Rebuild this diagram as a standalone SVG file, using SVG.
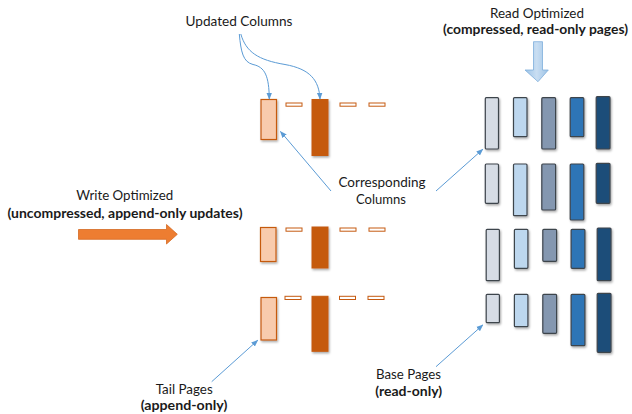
<svg xmlns="http://www.w3.org/2000/svg" width="632" height="414" viewBox="0 0 632 414">
<style>
text{font-family:Lato,"Liberation Sans",Arial,sans-serif;font-size:13.5px;fill:#1a1a1a;text-anchor:middle}
.b{font-weight:bold}
.tl{fill:#F8CBAD;stroke:#C55A11;stroke-width:1.2;filter:url(#sh)}
.td{fill:#C55A11;stroke:#C55A11;stroke-width:1;filter:url(#sh)}
.ds{fill:#fff;stroke:#C55A11;stroke-width:1}
.bp{stroke:#3E444C;stroke-width:1.2;filter:url(#sh)}
.c1{fill:#D6DCE5}.c2{fill:#BDD7EE}.c3{fill:#8497B0}.c4{fill:#2E75B6}.c5{fill:#1F4E79}
.ln{fill:none;stroke:#5B9BD5;stroke-width:1;marker-end:url(#ah)}
</style>
<defs>
<filter id="sh" x="-50%" y="-20%" width="200%" height="140%">
<feDropShadow dx="1" dy="1.5" stdDeviation="0.9" flood-color="#000" flood-opacity="0.35"/>
</filter>
<marker id="ah" viewBox="0 0 10 10" refX="9" refY="5" markerWidth="7" markerHeight="7" orient="auto" markerUnits="userSpaceOnUse">
<path d="M0,1 L10,5 L0,9 Z" fill="#5B9BD5"/>
</marker>
<linearGradient id="rg" x1="0" y1="0" x2="1" y2="0">
<stop offset="0" stop-color="#9DC3E6"/>
<stop offset="0.5" stop-color="#C9DEF2"/>
<stop offset="1" stop-color="#9DC3E6"/>
</linearGradient>
</defs>

<g id="labels">
<text x="239" y="26" textLength="107" lengthAdjust="spacingAndGlyphs">Updated Columns</text>
<text x="537" y="18" textLength="94" lengthAdjust="spacingAndGlyphs">Read Optimized</text>
<text class="b" x="535.5" y="34.3" textLength="185" lengthAdjust="spacingAndGlyphs">(compressed, read-only pages)</text>
<text x="124.7" y="200" textLength="97" lengthAdjust="spacingAndGlyphs">Write Optimized</text>
<text class="b" x="125" y="217.5" textLength="235" lengthAdjust="spacingAndGlyphs">(uncompressed, append-only updates)</text>
<text x="382" y="186.5" textLength="87" lengthAdjust="spacingAndGlyphs">Corresponding</text>
<text x="381" y="204" textLength="50" lengthAdjust="spacingAndGlyphs">Columns</text>
<text x="184.2" y="394" textLength="57" lengthAdjust="spacingAndGlyphs">Tail Pages</text>
<text class="b" x="184" y="409.5" textLength="86.6" lengthAdjust="spacingAndGlyphs">(append-only)</text>
<text x="408.5" y="379" textLength="65" lengthAdjust="spacingAndGlyphs">Base Pages</text>
<text class="b" x="408.7" y="395.7" textLength="67" lengthAdjust="spacingAndGlyphs">(read-only)</text>
</g>

<g id="write-arrow">
<path d="M78.5,229.5 H166.5 V224.5 L177.3,234.3 L166.5,244 V239.3 H78.5 Z" fill="#ED7D31" stroke="#D46A22" stroke-width="0.8"/>
</g>
<g id="read-arrow">
<path d="M533.5,41.7 H542.5 V70 H548.3 L538,81.7 L525,70 H533.5 Z" fill="url(#rg)" stroke="#7FAEDC" stroke-width="0.8"/>
</g>

<g id="tail-pages">
<g id="tail-row1">
<rect class="tl" x="261" y="99.5" width="15.5" height="40"/>
<rect class="ds" x="286" y="103" width="16" height="3.2"/>
<rect class="td" x="312" y="99.5" width="16" height="56"/>
<rect class="ds" x="340" y="103" width="16" height="3.2"/>
<rect class="ds" x="369" y="103" width="16" height="3.2"/>
</g>
<g id="tail-row2">
<rect class="tl" x="260.5" y="227.5" width="15.5" height="34"/>
<rect class="ds" x="286" y="228" width="16" height="3.2"/>
<rect class="td" x="312" y="227" width="16" height="41"/>
<rect class="ds" x="340" y="228" width="16" height="3.2"/>
<rect class="ds" x="369" y="228" width="16" height="3.2"/>
</g>
<g id="tail-row3">
<rect class="tl" x="261" y="297.5" width="15.5" height="42.5"/>
<rect class="ds" x="285" y="296.3" width="16" height="3.2"/>
<rect class="td" x="312" y="296.3" width="16" height="55"/>
<rect class="ds" x="339.5" y="296.3" width="16" height="3.2"/>
<rect class="ds" x="368" y="296.3" width="16" height="3.2"/>
</g>
</g>

<g id="base-pages">
<g id="base-row1">
<rect class="bp c1" x="485.3" y="97.7" width="13.2" height="51.3" rx="1"/>
<rect class="bp c2" x="513.5" y="97.7" width="13.5" height="39" rx="1"/>
<rect class="bp c3" x="541.8" y="97.7" width="13.8" height="51.3" rx="1"/>
<rect class="bp c4" x="570.2" y="97.7" width="13.6" height="39" rx="1"/>
<rect class="bp c5" x="596.2" y="96.7" width="13.8" height="52.3" rx="1"/>
</g>
<g id="base-row2">
<rect class="bp c1" x="485.3" y="164" width="13.2" height="39.3" rx="1"/>
<rect class="bp c2" x="513.5" y="164" width="13.5" height="51.7" rx="1"/>
<rect class="bp c3" x="541.8" y="164" width="13.8" height="46" rx="1"/>
<rect class="bp c4" x="570.2" y="164" width="13.6" height="56" rx="1"/>
<rect class="bp c5" x="596.2" y="163.3" width="13.8" height="40" rx="1"/>
</g>
<g id="base-row3">
<rect class="bp c1" x="486.2" y="229.3" width="13.2" height="51.4" rx="1"/>
<rect class="bp c2" x="514.4" y="229.3" width="13.5" height="39" rx="1"/>
<rect class="bp c3" x="542.8" y="229.3" width="13.8" height="32" rx="1"/>
<rect class="bp c4" x="571.1" y="229.3" width="13.8" height="39" rx="1"/>
<rect class="bp c5" x="597.2" y="228" width="13.8" height="52.7" rx="1"/>
</g>
<g id="base-row4">
<rect class="bp c1" x="486.2" y="294.3" width="13.2" height="28.4" rx="1"/>
<rect class="bp c2" x="514.4" y="294.3" width="13.5" height="32.4" rx="1"/>
<rect class="bp c3" x="542.8" y="294.3" width="13.8" height="39" rx="1"/>
<rect class="bp c4" x="571.1" y="294.3" width="13.8" height="51.4" rx="1"/>
<rect class="bp c5" x="597.2" y="293.3" width="13.8" height="59" rx="1"/>
</g>
</g>

<g id="connectors">
<path class="ln" d="M239.3,34 C241,52 243,62 253,64.5 C265,67 269,76 269.3,99"/>
<path class="ln" d="M240.8,34 C246,52 258,60 285,64.5 C310,69 319,80 320,99"/>
<path class="ln" d="M331,191 L280.5,131.5"/>
<path class="ln" d="M436,191 L482.8,149.3"/>
<path class="ln" d="M211.7,381.7 L257.7,340.3"/>
<path class="ln" d="M436,366.7 L482.8,325"/>
</g>
</svg>
